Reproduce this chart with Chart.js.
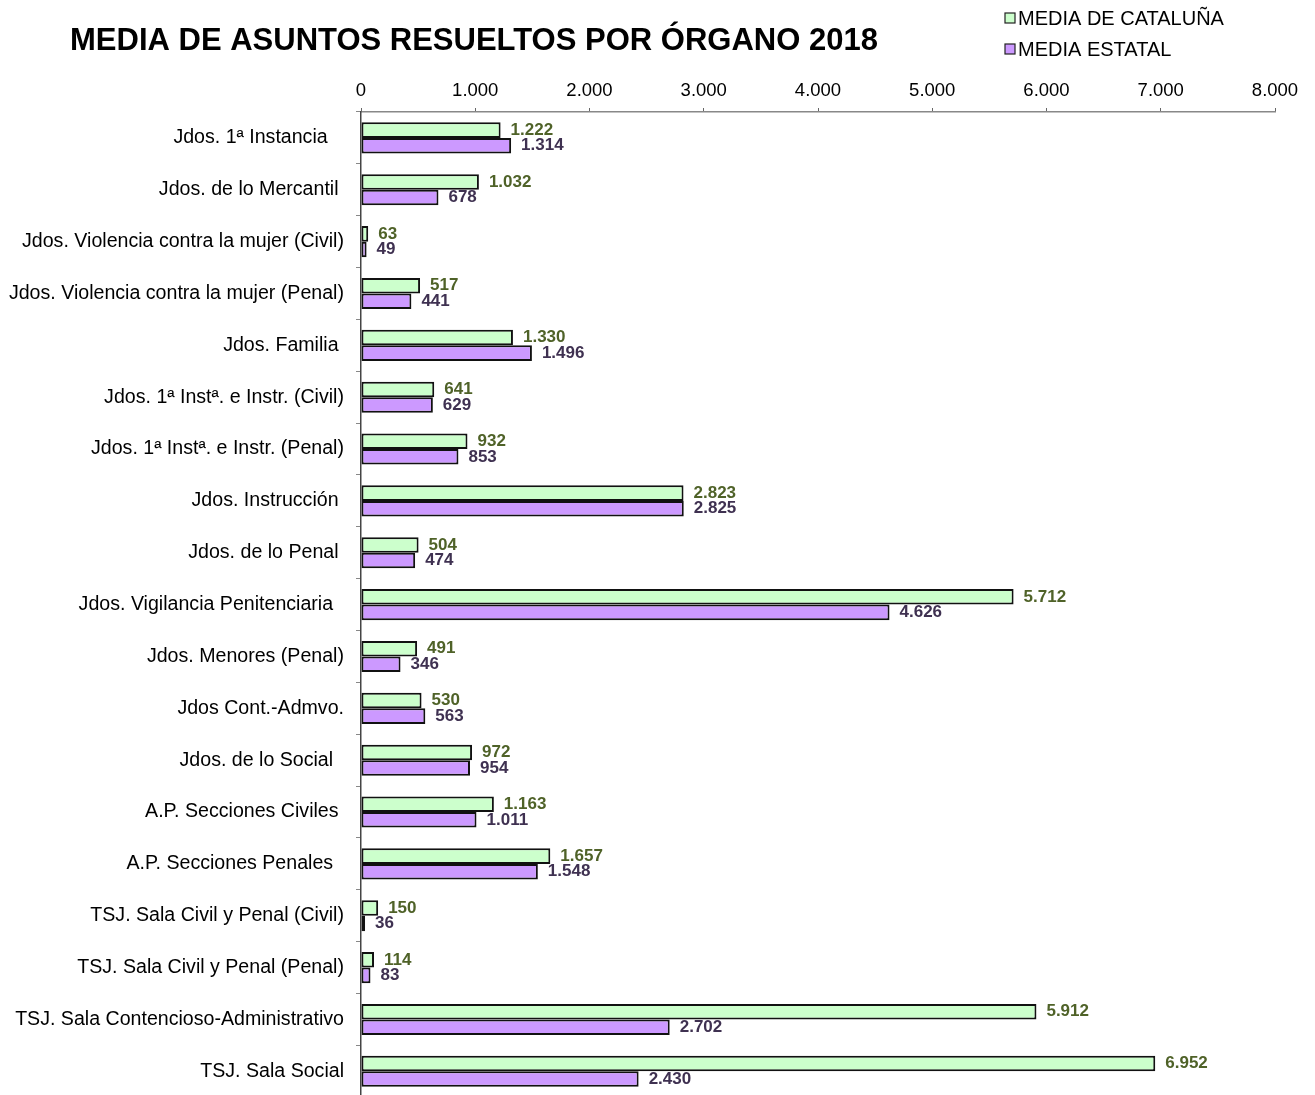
<!DOCTYPE html>
<html>
<head>
<meta charset="utf-8">
<script src="https://cdn.jsdelivr.net/npm/chart.js@4"></script>
<style>
  html, body { margin: 0; padding: 0; background: #fff; overflow: hidden; }
  #wrap { width: 1315px; height: 1121px; }
</style>
</head>
<body>
<div id="wrap"><canvas id="myChart" width="1315" height="1121"></canvas></div>
<script>
const categories = [
  "Jdos. 1ª Instancia   ",
  "Jdos. de lo Mercantil ",
  "Jdos. Violencia contra la mujer (Civil)",
  "Jdos. Violencia contra la mujer (Penal)",
  "Jdos. Familia ",
  "Jdos. 1ª Instª. e Instr. (Civil)",
  "Jdos. 1ª Instª. e Instr. (Penal)",
  "Jdos. Instrucción ",
  "Jdos. de lo Penal ",
  "Jdos. Vigilancia Penitenciaria  ",
  "Jdos. Menores (Penal)",
  "Jdos Cont.-Admvo.",
  "Jdos. de lo Social  ",
  "A.P. Secciones Civiles ",
  "A.P. Secciones Penales  ",
  "TSJ. Sala Civil y Penal (Civil)",
  "TSJ. Sala Civil y Penal (Penal)",
  "TSJ. Sala Contencioso-Administrativo",
  "TSJ. Sala Social",
];
const mediaCataluna = [1222, 1032, 63, 517, 1330, 641, 932, 2823, 504, 5712, 491, 530, 972, 1163, 1657, 150, 114, 5912, 6952];
const mediaEstatal = [1314, 678, 49, 441, 1496, 629, 853, 2825, 474, 4626, 346, 563, 954, 1011, 1548, 36, 83, 2702, 2430];
const seriesNames = ["MEDIA DE CATALUÑA", "MEDIA ESTATAL"];
const xTicks = [0, 1000, 2000, 3000, 4000, 5000, 6000, 7000, 8000];
const title = "MEDIA DE ASUNTOS RESUELTOS POR ÓRGANO 2018";

const FONT = '"Liberation Sans", Arial, sans-serif';
const fmt = (v) => String(v).replace(/\B(?=(\d{3})+(?!\d))/g, ".");

// title, legend and value labels
const decorations = {
  id: "decorations",
  afterDatasetsDraw(chart) {
    const ctx = chart.ctx;
    ctx.save();
    ctx.font = "bold 17px " + FONT;
    ctx.textAlign = "left";
    ctx.textBaseline = "middle";
    chart.data.datasets.forEach((ds, i) => {
      const meta = chart.getDatasetMeta(i);
      ctx.fillStyle = ds.labelColor;
      meta.data.forEach((bar, j) => {
        ctx.fillText(fmt(ds.data[j]), bar.x + 10, bar.y);
      });
    });
    ctx.restore();
  },
  afterDraw(chart) {
    const ctx = chart.ctx;
    ctx.save();
    ctx.fillStyle = "#000";
    ctx.font = "bold 31px " + FONT;
    ctx.textBaseline = "middle";
    ctx.fillText(title, 70, 41);

    ctx.font = "20px " + FONT;
    chart.data.datasets.forEach((ds, i) => {
      const y = 18 + i * 31;
      ctx.fillStyle = ds.backgroundColor;
      ctx.fillRect(1005, y - 5, 10, 10);
      ctx.strokeStyle = "#222";
      ctx.lineWidth = 1.2;
      ctx.strokeRect(1005, y - 5, 10, 10);
      ctx.fillStyle = "#000";
      ctx.fillText(ds.label, 1018, y + 1);
    });
    ctx.restore();
  },
};

new Chart(document.getElementById("myChart"), {
  type: "bar",
  data: {
    labels: categories,
    datasets: [
      {
        label: seriesNames[0],
        data: mediaCataluna,
        backgroundColor: "#ccffcc",
        borderColor: "#111",
        labelColor: "#4f6228",
        borderWidth: 2,
        borderSkipped: false,
      },
      {
        label: seriesNames[1],
        data: mediaEstatal,
        backgroundColor: "#cc99ff",
        borderColor: "#111",
        labelColor: "#3f3151",
        borderWidth: 2,
        borderSkipped: false,
      },
    ],
  },
  options: {
    indexAxis: "y",
    responsive: false,
    animation: false,
    layout: { padding: { top: 60, right: 40, bottom: 2, left: 0 } },
    categoryPercentage: 0.6,
    barPercentage: 1.0,
    plugins: {
      legend: { display: false },
      title: { display: false },
      tooltip: { enabled: false },
    },
    scales: {
      x: {
        position: "top",
        min: 0,
        max: 8000,
        afterBuildTicks: (scale) => {
          scale.ticks = xTicks.map((v) => ({ value: v }));
        },
        afterFit: (scale) => { scale.height = 52; },
        border: { display: true, color: "#888", width: 1.5 },
        grid: { drawOnChartArea: false, tickLength: 4, color: "#666" },
        ticks: {
          color: "#000",
          font: { family: FONT, size: 18.5 },
          padding: 6,
          maxRotation: 0,
          callback: (v) => fmt(v),
        },
      },
      y: {
        afterFit: (scale) => { scale.width = 361; },
        border: { display: true, color: "#444", width: 1.5 },
        grid: { drawOnChartArea: false, tickLength: 5, color: "#888", offset: true },
        ticks: {
          color: "#000",
          font: { family: FONT, size: 19.6 },
          padding: 12,
          autoSkip: false,
        },
      },
    },
  },
  plugins: [decorations],
});
</script>
</body>
</html>
